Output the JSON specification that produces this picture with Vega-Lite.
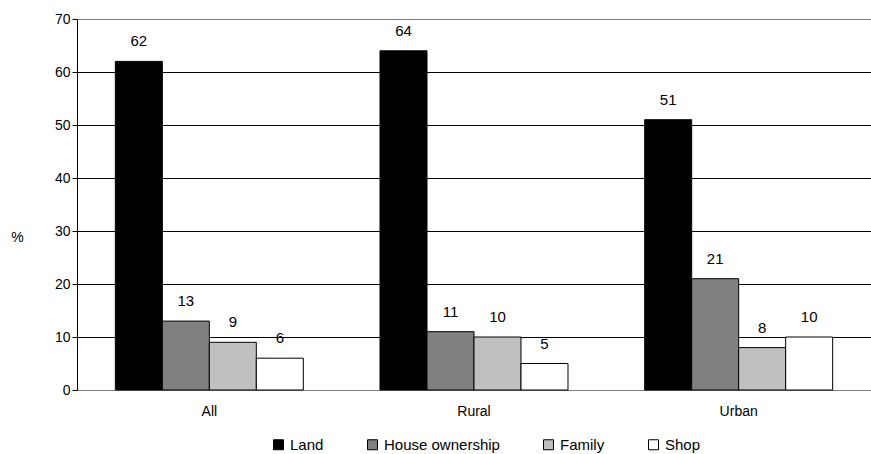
{
  "$schema": "https://vega.github.io/schema/vega-lite/v6.json",
  "width": 794,
  "height": 371,
  "autosize": {"type": "none"},
  "padding": {"left": 77, "top": 19, "right": 0, "bottom": 64},
  "background": "white",
  "config": {
    "view": {"stroke": null},
    "font": "Liberation Sans"
  },
  "data": {
    "values": [
      {"area": "All", "type": "Land", "value": 62},
      {"area": "All", "type": "House ownership", "value": 13},
      {"area": "All", "type": "Family", "value": 9},
      {"area": "All", "type": "Shop", "value": 6},
      {"area": "Rural", "type": "Land", "value": 64},
      {"area": "Rural", "type": "House ownership", "value": 11},
      {"area": "Rural", "type": "Family", "value": 10},
      {"area": "Rural", "type": "Shop", "value": 5},
      {"area": "Urban", "type": "Land", "value": 51},
      {"area": "Urban", "type": "House ownership", "value": 21},
      {"area": "Urban", "type": "Family", "value": 8},
      {"area": "Urban", "type": "Shop", "value": 10}
    ]
  },
  "encoding": {
    "x": {
      "field": "area", "type": "nominal",
      "scale": {"paddingInner": 0, "paddingOuter": 0},
      "axis": {
        "title": null, "labelAngle": 0, "ticks": false, "domain": true,
        "domainColor": "#808080", "labelFontSize": 14, "labelColor": "black",
        "labelPadding": 21, "labelBaseline": "middle", "grid": false
      }
    },
    "xOffset": {
      "field": "type", "type": "nominal",
      "sort": ["Land", "House ownership", "Family", "Shop"],
      "scale": {"paddingInner": 0, "paddingOuter": 0.816}
    },
    "y": {
      "field": "value", "type": "quantitative",
      "scale": {"domain": [0, 70], "nice": false},
      "axis": {
        "values": [0, 10, 20, 30, 40, 50, 60, 70],
        "title": "%", "titleAngle": 0, "titleAlign": "center", "titleBaseline": "middle",
        "titleX": -60, "titleY": 218, "titleFontSize": 14, "titleFontWeight": "normal",
        "titleColor": "black",
        "labelFontSize": 14, "labelColor": "black", "labelPadding": 2,
        "tickSize": 5, "tickColor": "black", "domainColor": "black",
        "grid": true,
        "gridColor": {"condition": {"test": "datum.value == 70 || datum.value == 0", "value": "#808080"}, "value": "black"},
        "gridOpacity": 1, "gridWidth": 1
      }
    }
  },
  "layer": [
    {
      "mark": {"type": "bar", "stroke": "black", "strokeWidth": 1, "opacity": 1},
      "encoding": {
        "color": {
          "field": "type", "type": "nominal",
          "sort": ["Land", "House ownership", "Family", "Shop"],
          "scale": {
            "domain": ["Land", "House ownership", "Family", "Shop"],
            "range": ["#000000", "#808080", "#c0c0c0", "#ffffff"]
          },
          "legend": {
            "title": null, "orient": "none", "direction": "horizontal",
            "legendX": 194, "legendY": 418,
            "symbolType": "square", "symbolSize": 100,
            "symbolStrokeColor": "black", "symbolStrokeWidth": 1,
            "symbolOpacity": 1,
            "labelFontSize": 15, "labelColor": "black", "labelOffset": 4,
            "columnPadding": 41
          }
        }
      }
    },
    {
      "mark": {"type": "text", "dy": -20, "fontSize": 15, "color": "black", "baseline": "middle"},
      "encoding": {
        "text": {"field": "value", "type": "quantitative"}
      }
    }
  ]
}
